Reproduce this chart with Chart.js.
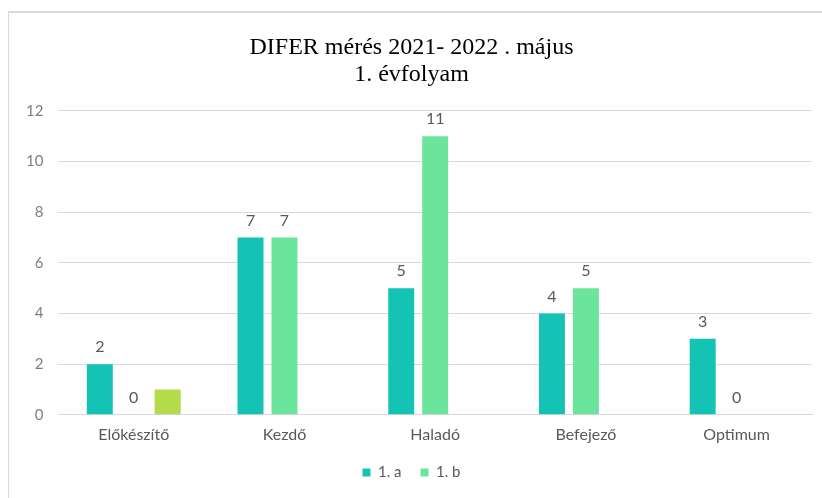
<!DOCTYPE html>
<html>
<head>
<meta charset="utf-8">
<script src="https://cdn.jsdelivr.net/npm/chart.js@4.4.1/dist/chart.umd.min.js"></script>
<style>
  html, body { margin: 0; padding: 0; background: #fff; overflow: hidden; }
  .frame { position: absolute; left: 8px; top: 11px; width: 900px; height: 600px;
           border-left: 1px solid #d9d9d9; border-top: 2px solid #d9d9d9; }
  .chart-box { position: absolute; left: 0; top: 0; width: 822px; height: 498px; }
</style>
</head>
<body>
<div class="frame"></div>
<div class="chart-box"><canvas id="diferChart"></canvas></div>
<script>
var categories = ['Előkészítő', 'Kezdő', 'Haladó', 'Befejező', 'Optimum'];
var classA = [2, 7, 5, 4, 3];
var classB = [0, 7, 11, 5, 0];
var extra = [1, null, null, null, null];
var yTicks = [0, 2, 4, 6, 8, 10, 12];

// value labels above bars of the two class series
var barLabels = {
    id: 'barLabels',
    afterDatasetsDraw: function(chart) {
        var ctx = chart.ctx;
        ctx.save();
        ctx.font = '16px Lato';
        ctx.fillStyle = '#595959';
        ctx.textAlign = 'center';
        ctx.textBaseline = 'middle';
        [0, 1].forEach(function(di) {
            var meta = chart.getDatasetMeta(di);
            meta.data.forEach(function(bar, i) {
                var v = chart.data.datasets[di].data[i];
                if (v === null) return;
                ctx.fillText(String(v), bar.x, bar.y - 17);
            });
        });
        ctx.restore();
    }
};

new Chart(document.getElementById('diferChart').getContext('2d'), {
    type: 'bar',
    data: {
        labels: categories,
        datasets: [{
            label: '1. a',
            data: classA,
            backgroundColor: '#14c3b3'
        }, {
            label: '1. b',
            data: classB,
            backgroundColor: '#6ae59b'
        }, {
            label: '',
            data: extra,
            backgroundColor: '#b3db4a'
        }]
    },
    options: {
        responsive: true,
        maintainAspectRatio: false,
        animation: false,
        categoryPercentage: 0.676,
        barPercentage: 0.765,
        layout: { padding: { left: 11, right: 10, top: 35, bottom: 8 } },
        plugins: {
            title: {
                display: true,
                text: ['DIFER mérés 2021- 2022 . május', '1. évfolyam'],
                font: { family: 'Liberation Serif', size: 24, weight: 'normal', lineHeight: 1.1 },
                color: '#000',
                padding: { top: 0, bottom: 23 }
            },
            legend: {
                position: 'bottom',
                labels: {
                    filter: function(item) { return item.text !== ''; },
                    boxWidth: 8,
                    boxHeight: 8,
                    padding: 19,
                    color: '#595959',
                    font: { family: 'Lato', size: 15 }
                }
            },
            tooltip: { enabled: false }
        },
        scales: {
            x: {
                grid: { display: false },
                border: { color: '#d9d9d9' },
                ticks: { color: '#595959', font: { family: 'Lato', size: 16 }, padding: 2 }
            },
            y: {
                min: 0,
                max: 12,
                afterBuildTicks: function(axis) {
                    axis.ticks = yTicks.map(function(v) { return { value: v }; });
                },
                grid: { color: '#d9d9d9', drawTicks: false },
                border: { display: false },
                ticks: { color: '#7f7f7f', font: { family: 'Lato', size: 15 }, padding: 15 }
            }
        }
    },
    plugins: [barLabels]
});
</script>
</body>
</html>
